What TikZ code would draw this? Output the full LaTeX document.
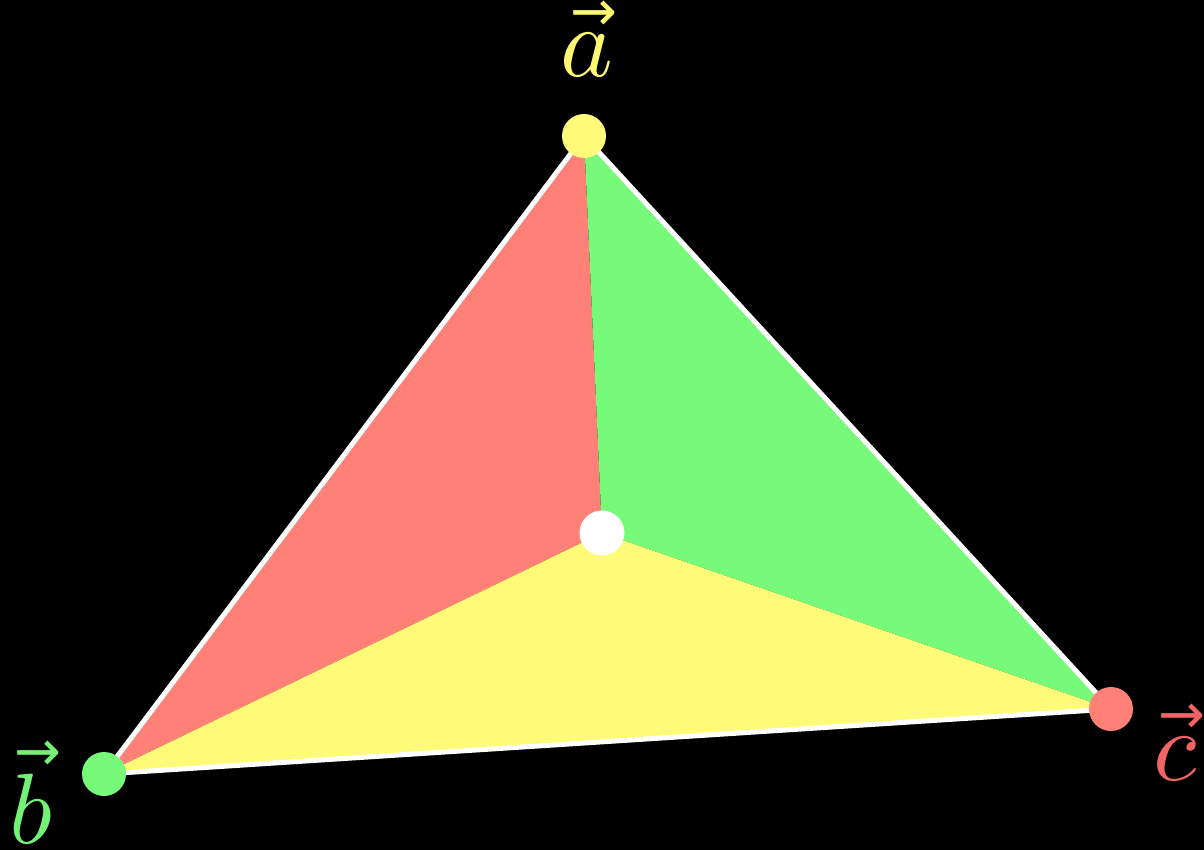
\documentclass[tikz,border=0pt]{standalone}
\usepackage{graphicx}
\usepackage{fontspec}
\newfontfamily\arrowfont{DejaVu Sans}
\newcommand{\myvec}[1]{\vbox{\offinterlineskip\halign{\hfil##\hfil\cr\kern1.4pt{\arrowfont\fontsize{5.6}{6}\selectfont →}\cr\noalign{\kern0.3pt}$#1$\cr}}}
\begin{document}
\definecolor{fred}{HTML}{FF8077}
\definecolor{fgreen}{HTML}{77FA79}
\definecolor{fyellow}{HTML}{FFFA77}
\definecolor{lyellow}{HTML}{FFF870}
\definecolor{lgreen}{HTML}{74F276}
\definecolor{lred}{HTML}{F06464}
\begin{tikzpicture}[x=1pt,y=-1pt,
  dot/.style={circle,inner sep=0pt,minimum size=44pt},
  lab/.style={anchor=base,inner sep=0pt}]
\fill[black] (0,0) rectangle (1204,850);
\useasboundingbox (0,0) rectangle (1204,850);
\coordinate (A) at (584,136);
\coordinate (B) at (104,774);
\coordinate (C) at (1111,709);
\coordinate (P) at (602,533);
\fill[fred] (P) -- (B) -- (A) -- cycle;
\fill[fgreen] (P) -- (A) -- (C) -- cycle;
\fill[fyellow] (P) -- (B) -- (C) -- cycle;
\draw[white,line width=5pt,line join=round] (A) -- (B) -- (C) -- cycle;
\node[dot,fill=fyellow] (dA) at (A) {};
\node[dot,fill=fgreen] (dB) at (B) {};
\node[dot,fill=fred] (dC) at (C) {};
\node[dot,fill=white,minimum size=45pt] (dP) at (P) {};
\node[lab,text=lyellow] (la) at (587,77) {\scalebox{10}{\myvec{a}}};
\node[lab,text=lgreen] (lb) at (31,843) {\scalebox{10}{\myvec{b}}};
\node[lab,text=lred] (lc) at (1175,780) {\scalebox{10}{\myvec{c}}};
\end{tikzpicture}
\end{document}
